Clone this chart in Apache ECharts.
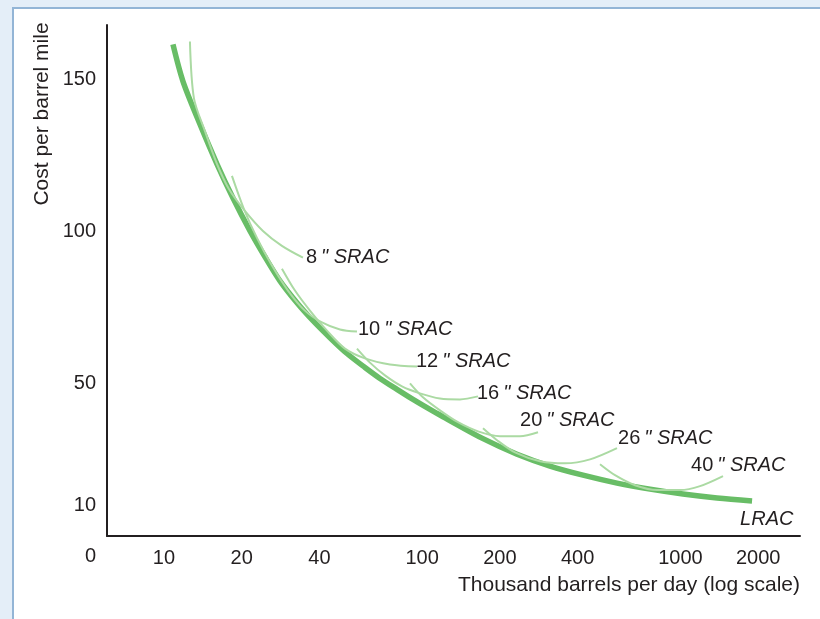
<!DOCTYPE html>
<html><head><meta charset="utf-8">
<script src="https://cdn.jsdelivr.net/npm/echarts@6/dist/echarts.min.js"></script>
<style>
html,body{margin:0;padding:0;width:820px;height:619px;background:#e4eef8;overflow:hidden}
#panel{position:absolute;left:12px;top:7px;width:808px;height:612px;background:#fff;border-left:2px solid #93b5d6;border-top:2px solid #93b5d6;box-sizing:border-box}
#chart{position:absolute;left:0;top:0;width:820px;height:619px}
</style></head><body><div id="panel"></div><div id="chart"></div>
<script>
// Axis ticks
const xTickValues = [10, 20, 40, 100, 200, 400, 1000, 2000];
const yTickValues = [0, 10, 50, 100, 150];
const xTitle = 'Thousand barrels per day (log scale)';
const yTitle = 'Cost per barrel mile';

// Long-run average cost: [thousand barrels/day, cost]
const lracData = [[10.84,161.6],[11.85,149.5],[13.79,135.4],[16.05,122.3],[18.51,111.1],[21.54,100.3],[24.61,91.8],[28.13,83.9],[32.74,76.7],[37.77,70.8],[43.95,65.2],[51.14,60.0],[60.04,55.4],[68.64,51.8],[79.87,48.2],[92.13,44.9],[107.2,41.6],[120.4,39.2],[172.0,32.0],[232.9,26.9],[312.6,23.0],[419.5,20.0],[568.1,17.4],[762.6,15.4],[1023,13.8],[1386,12.5],[1894,11.5]];

// Short-run average cost curves by pipe diameter (inches)
const sracSizes = ['8', '10', '12', '16', '20', '26', '40'];
const srac8  = [[12.61,162.6],[13.07,143.9],[14.42,133.1],[16.05,122.3],[17.85,114.1],[20.59,106.9],[24.18,100.3],[28.64,95.4],[34.55,91.5]];
const srac10 = [[18.34,118.4],[20.41,107.5],[22.92,98.0],[26.20,88.9],[30.22,80.7],[35.16,74.1],[40.92,70.2],[48.04,67.9],[55.91,67.2]];
const srac12 = [[28.64,87.9],[32.17,80.7],[36.77,74.1],[42.80,67.5],[50.23,61.6],[60.04,58.4],[75.04,56.4],[95.48,55.7]];
const srac16 = [[55.91,61.6],[62.77,57.0],[71.76,52.8],[83.52,49.2],[98.06,46.9],[117.2,45.2],[140.1,44.9],[164.5,45.9]];
const srac20 = [[89.69,50.2],[100.7,45.6],[117.2,41.3],[137.6,37.4],[164.5,34.4],[200.1,32.8],[239.2,32.8],[280.9,34.1]];
const srac26 = [[172.0,35.4],[194.9,31.5],[228.8,27.5],[285.9,24.6],[357.4,23.9],[446.6,25.2],[568.1,28.9]];
const srac40 = [[488.2,23.6],[558.1,20.0],[667.3,16.7],[811.8,15.1],[996.5,15.1],[1191,16.4],[1462,19.7]];
const sracData = [srac8, srac10, srac12, srac16, srac20, srac26, srac40];
const sracLabelOffsets = [[0,0],[-2,-2],[-4,-5],[-4,-3],[-21,-12],[-2,-10],[-35,-11]];

const FONT = '"Liberation Sans", Arial, Helvetica, sans-serif';
const TXT = '#231f20';

const chart = echarts.init(document.getElementById('chart'), null, {renderer: 'canvas'});

const series = [{
  type: 'line', name: 'LRAC', data: lracData, smooth: 0.3, showSymbol: false, z: 2,
  lineStyle: {color: '#68bd66', width: 5.5, cap: 'butt'},
  endLabel: {show: true, formatter: 'LRAC', fontFamily: FONT, fontSize: 20, fontStyle: 'italic', color: TXT, offset: [-20, 18]}
}];
sracData.forEach((d, i) => {
  series.push({
    type: 'line', name: sracSizes[i] + '" SRAC', data: d, smooth: 0.3, showSymbol: false, z: 3,
    lineStyle: {color: '#abdaa3', width: 2},
    endLabel: {
      show: true, offset: sracLabelOffsets[i], distance: 3,
      formatter: '{n|' + sracSizes[i] + '}{i|\u2009" SRAC}',
      rich: {
        n: {fontFamily: FONT, fontSize: 20, color: TXT},
        i: {fontFamily: FONT, fontSize: 20, fontStyle: 'italic', color: TXT}
      }
    }
  });
});

chart.setOption({
  animation: false,
  grid: {left: 107, right: 20, top: 25, bottom: 83, containLabel: false},
  xAxis: {
    type: 'log', logBase: 10, min: 6.02, max: 2904,
    axisLine: {show: true, lineStyle: {color: TXT, width: 2}},
    axisTick: {show: false},
    splitLine: {show: false},
    minorTick: {show: false},
    axisLabel: {customValues: xTickValues, formatter: v => String(Math.round(v)), fontFamily: FONT, fontSize: 20, color: TXT, margin: 12}
  },
  yAxis: {
    type: 'value', min: 0, max: 168,
    axisLine: {show: true, lineStyle: {color: TXT, width: 2}},
    axisTick: {show: false},
    splitLine: {show: false},
    axisLabel: {
      customValues: yTickValues, fontFamily: FONT, fontSize: 20, color: TXT, margin: 11,
      formatter: v => v === 0 ? '{z|0}' : String(v),
      rich: {z: {fontFamily: FONT, fontSize: 20, color: TXT, padding: [40, 0, 0, 0]}}
    }
  },
  graphic: [
    {type: 'text', x: 42, y: 114, rotation: Math.PI / 2,
     style: {text: yTitle, font: '21px ' + FONT, fill: TXT, textAlign: 'center', textVerticalAlign: 'middle'}},
    {type: 'text', x: 800, y: 585,
     style: {text: xTitle, font: '21px ' + FONT, fill: TXT, textAlign: 'right', textVerticalAlign: 'middle'}}
  ],
  series: series
});
</script></body></html>
